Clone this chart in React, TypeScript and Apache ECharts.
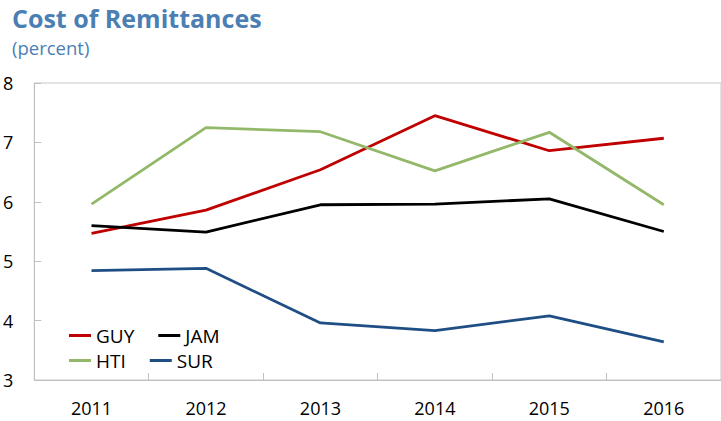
import React, { useEffect, useRef } from "react";
import * as echarts from "echarts";

const years = ["2011", "2012", "2013", "2014", "2015", "2016"];
const guy = [5.47, 5.86, 6.54, 7.45, 6.86, 7.07];
const jam = [5.6, 5.49, 5.95, 5.96, 6.05, 5.5];
const hti = [5.96, 7.25, 7.18, 6.52, 7.17, 5.95];
const sur = [4.84, 4.88, 3.96, 3.83, 4.08, 3.64];

const FONT = "'Open Sans', 'Noto Sans', sans-serif";
const BLUE_TITLE = "#4b7fb4";

export default function App() {
  const ref = useRef<HTMLDivElement>(null);
  useEffect(() => {
    if (!ref.current) return;
    const chart = echarts.init(ref.current, null, { renderer: "svg" });
    const mk = (name: string, data: number[], color: string) => ({
      name,
      type: "line",
      data,
      symbol: "none",
      lineStyle: { color, width: 2.8 },
      itemStyle: { color },
    });
    const legendBase = {
      orient: "horizontal",
      left: 69,
      padding: 0,
      itemWidth: 22,
      itemHeight: 3,
      itemGap: 24,
      icon: "rect",
      textStyle: { fontFamily: FONT, fontSize: 19, color: "#000", width: 44 },
    };
    chart.setOption({
      animation: false,
      textStyle: { fontFamily: FONT },
      title: [
        {
          text: "Cost of Remittances",
          left: 12,
          top: 4,
          padding: 0,
          textStyle: { fontFamily: FONT, fontSize: 25, fontWeight: "bold", color: BLUE_TITLE, lineHeight: 28 },
        },
        {
          text: "(percent)",
          left: 12,
          top: 38,
          padding: 0,
          textStyle: { fontFamily: FONT, fontSize: 18.5, fontWeight: "normal", color: BLUE_TITLE },
        },
      ],
      legend: [
        { ...legendBase, top: 326, data: ["GUY", "JAM"] },
        { ...legendBase, top: 351, data: ["HTI", "SUR"] },
      ],
      grid: {
        left: 31,
        top: 83,
        width: 702,
        bottom: 41,
        show: true,
        borderColor: "#c8c8c8",
        borderWidth: 1,
        containLabel: false,
      },
      xAxis: {
        type: "category",
        data: years,
        boundaryGap: true,
        axisLine: { lineStyle: { color: "#bfbfbf", width: 1 } },
        axisTick: { show: true, inside: true, length: 7, interval: 0, lineStyle: { color: "#bfbfbf" } },
        axisLabel: { fontFamily: FONT, fontSize: 18, color: "#000", margin: 19 },
        splitLine: { show: false },
      },
      yAxis: {
        type: "value",
        min: 3,
        max: 8,
        interval: 1,
        axisLine: { show: true, lineStyle: { color: "#bfbfbf", width: 1 } },
        axisTick: { show: true, inside: true, length: 7, lineStyle: { color: "#bfbfbf" } },
        axisLabel: { fontFamily: FONT, fontSize: 18, color: "#000", margin: 21 },
        splitLine: { show: false },
      },
      series: [
        mk("GUY", guy, "#c00000"),
        mk("JAM", jam, "#000000"),
        mk("HTI", hti, "#93b86a"),
        mk("SUR", sur, "#1f4e85"),
      ],
    });
    return () => chart.dispose();
  }, []);
  return (
    <div
      ref={ref}
      style={{ position: "absolute", left: 0, top: 0, width: 721, height: 421, background: "#fff" }}
    />
  );
}
